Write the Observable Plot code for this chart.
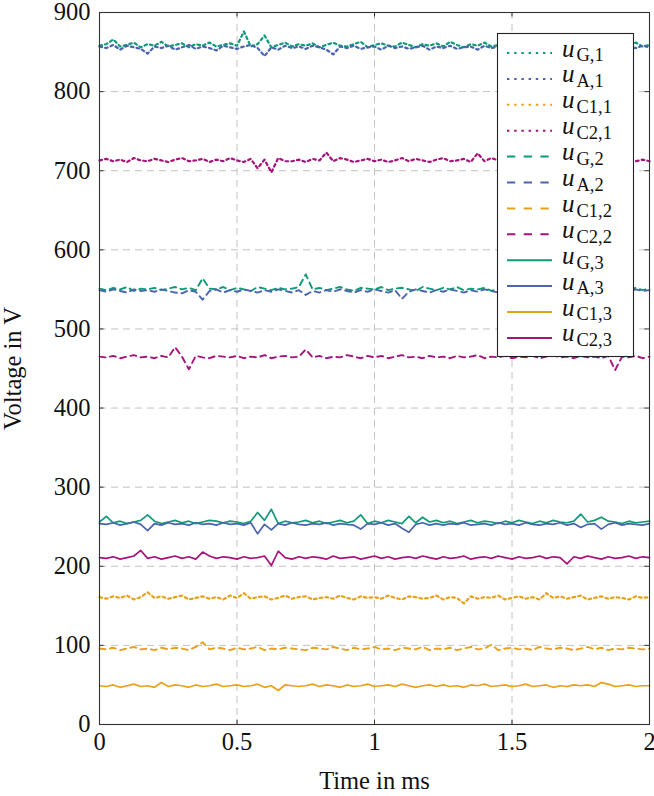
<!DOCTYPE html>
<html><head><meta charset="utf-8">
<script src="https://cdn.jsdelivr.net/npm/d3@7"></script>
<script src="https://cdn.jsdelivr.net/npm/@observablehq/plot@0.6"></script>
<style>
body{margin:0;background:#fff;}
#wrap{position:relative;width:654px;height:796px;}
#wrap svg.leg{position:absolute;left:0;top:0;pointer-events:none;}
</style></head><body><div id="wrap"></div>
<script>
const timeMs = [
0,0.025,0.05,0.075,0.1,0.125,0.15,0.175,0.2,0.225,
0.25,0.275,0.3,0.325,0.35,0.375,0.4,0.425,0.45,0.475,
0.5,0.525,0.55,0.575,0.6,0.625,0.65,0.675,0.7,0.725,
0.75,0.775,0.8,0.825,0.85,0.875,0.9,0.925,0.95,0.975,
1,1.025,1.05,1.075,1.1,1.125,1.15,1.175,1.2,1.225,
1.25,1.275,1.3,1.325,1.35,1.375,1.4,1.425,1.45,1.475,
1.5,1.525,1.55,1.575,1.6,1.625,1.65,1.675,1.7,1.725,
1.75,1.775,1.8,1.825,1.85,1.875,1.9,1.925,1.95,1.975,
2];

const uG1 = [
858,860,866,857,859,862,856,860,858,863,
857,859,861,856,860,858,862,857,859,861,
858,876,857,860,871,856,859,862,857,860,
858,861,856,859,862,858,857,860,863,856,
859,861,858,857,862,859,856,860,858,861,
857,863,859,856,860,858,862,857,859,861,
858,856,860,863,857,859,858,861,856,860,
862,857,859,858,861,856,860,858,862,857,
859];
const uA1 = [
857,855,859,853,858,856,854,848,857,855,
858,853,856,859,854,857,855,852,858,856,
854,857,859,855,845,856,853,858,855,857,
854,858,856,853,847,857,855,858,854,856,
857,853,858,855,857,854,856,858,853,857,
855,858,854,856,857,853,858,855,857,854,
856,858,853,857,855,858,854,856,857,853,
858,855,857,854,856,858,853,857,855,858,
856];
const uC11 = [
161,159,162,160,163,158,161,167,160,162,
159,161,163,158,160,162,159,161,158,163,
160,166,159,161,162,158,160,163,159,161,
162,158,160,161,159,163,160,158,162,160,
161,159,163,160,158,162,161,159,160,163,
158,161,160,153,162,159,161,160,163,158,
160,162,159,161,158,166,160,162,159,161,
163,158,160,162,159,161,160,158,162,160,
161];
const uC21 = [
713,715,712,714,711,716,713,712,715,713,
711,714,716,712,713,715,711,714,712,716,
713,711,715,703,714,698,716,712,712,714,
711,715,713,723,712,716,714,711,713,715,
712,714,711,713,716,712,715,713,711,714,
716,712,713,715,711,722,712,716,713,711,
714,712,715,713,711,716,714,713,712,715,
711,714,713,705,716,711,715,713,712,714,
712];
const uG2 = [
551,549,552,550,553,548,551,550,552,549,
551,553,550,552,549,564,551,550,553,549,
552,550,548,553,551,549,552,550,551,553,
569,550,552,549,551,553,550,548,552,551,
550,553,549,551,552,550,548,553,551,549,
552,550,553,549,551,550,552,548,551,553,
550,549,552,551,553,548,550,552,549,551,
553,550,549,552,551,548,553,550,552,549,
551];
const uA2 = [
549,547,550,548,546,550,548,549,547,550,
548,546,545,549,547,537,548,550,546,549,
547,550,548,546,549,547,550,548,546,549,
543,548,546,549,547,550,548,546,549,547,
550,548,546,549,538,547,550,548,546,549,
547,550,548,546,549,547,550,548,546,549,
548,546,549,547,550,548,546,549,547,550,
546,549,547,550,548,546,549,547,550,548,
549];
const uC12 = [
96,95,97,94,96,98,95,96,94,97,
95,97,96,94,98,104,95,97,96,94,
97,95,96,98,94,96,95,97,96,95,
94,97,96,95,98,96,94,97,95,96,
98,95,96,94,97,96,95,98,94,96,
95,97,94,96,98,95,96,101,94,96,
97,95,96,94,98,96,95,97,96,94,
96,98,95,97,94,96,95,97,96,95,
96];
const uC22 = [
465,464,466,463,465,467,464,465,463,466,
464,477,465,449,466,464,463,466,465,464,
466,463,465,464,467,463,465,466,464,465,
474,464,466,463,465,464,467,465,463,466,
464,466,463,465,467,464,465,463,466,464,
465,463,466,464,465,467,463,465,464,466,
463,465,464,466,463,465,467,464,465,463,
466,464,465,463,466,448,465,464,466,463,
465];
const uG3 = [
256,263,255,257,254,256,258,265,257,254,
256,258,255,257,254,256,258,257,255,257,
256,254,257,268,258,272,254,257,255,256,
258,255,257,254,256,258,255,257,265,254,
257,255,258,256,254,263,255,262,256,258,
255,257,254,256,258,255,257,256,254,257,
255,258,256,254,257,255,258,256,255,257,
266,256,258,262,257,256,254,257,255,256,
257];
const uA3 = [
254,253,255,252,254,256,253,245,254,252,
255,253,254,252,255,253,254,252,255,253,
254,252,255,241,253,246,254,252,255,253,
252,254,253,255,252,254,253,252,247,254,
253,255,252,254,248,243,253,255,252,254,
252,254,253,255,252,253,254,252,255,253,
254,252,255,253,252,254,253,255,252,254,
249,253,254,247,253,255,252,254,253,252,
254];
const uC13 = [
49,48,50,47,49,51,48,49,47,53,
48,50,49,47,50,48,49,51,48,49,
50,48,49,51,47,49,43,50,49,48,
49,51,48,50,49,47,50,48,49,51,
48,49,50,48,51,49,47,49,50,48,
50,48,49,47,50,49,51,48,49,50,
48,49,51,48,49,50,47,49,48,50,
49,50,48,53,51,48,49,50,48,49,
49];
const uC23 = [
211,210,212,209,211,213,220,210,212,209,
211,213,210,212,209,218,213,210,212,211,
209,212,210,211,213,201,219,211,209,212,
210,212,211,209,213,210,211,212,209,211,
213,210,212,209,211,212,210,213,211,209,
212,210,211,213,209,211,212,210,213,211,
209,212,210,211,213,210,212,211,203,212,
210,213,211,209,212,210,211,213,210,212,
211];

const seriesSubs = ["G,1","A,1","C1,1","C2,1","G,2","A,2","C1,2","C2,2","G,3","A,3","C1,3","C2,3"];
const seriesValues = [uG1,uA1,uC11,uC21,uG2,uA2,uC12,uC22,uG3,uA3,uC13,uC23];
const seriesColor = ["G","A","C1","C2","G","A","C1","C2","G","A","C1","C2"];
const seriesStyle = ["dot","dot","dot","dot","dash","dash","dash","dash","solid","solid","solid","solid"];
const xTicks = [0,0.5,1,1.5,2];
const yTicks = [0,100,200,300,400,500,600,700,800,900];

const palette = {G:"#0f9a79", A:"#4a64ae", C1:"#e8a11a", C2:"#a5137c"};
const plotDash = {dot:"2.6,3.2", dash:"6,4.6", solid:null};
const plotWidth = {dot:2.2, dash:1.9, solid:1.7};
const legDash = {dot:"2.4,4.8", dash:"8.3,8.4", solid:null};

const W = 654, H = 796, ML = 99, MR = 5, MT = 12, MB = 72;
const innerW = W - ML - MR, innerH = H - MT - MB;
const tickLen = 4.5;
const fontStack = "'Liberation Serif', 'Times New Roman', 'DejaVu Serif', serif";
const gridStyle = {stroke:"#c2c2c2", strokeOpacity:1, strokeDasharray:"7,5", strokeWidth:1};

const lineMarks = seriesSubs.map((sub, k) => {
  const rows = timeMs.map((t, i) => ({t, v: seriesValues[k][i]}));
  return Plot.line(rows, {x:"t", y:"v", stroke: palette[seriesColor[k]],
    strokeWidth: plotWidth[seriesStyle[k]],
    strokeDasharray: plotDash[seriesStyle[k]], strokeLinejoin:"round"});
});

const chart = Plot.plot({
  width: W, height: H,
  marginLeft: ML, marginRight: MR, marginTop: MT, marginBottom: MB,
  style: {fontFamily: fontStack, fontSize: "24.5px", color: "#111", background: "#fff", overflow: "visible"},
  x: {domain: [0, 2]},
  y: {domain: [0, 900]},
  marks: [
    Plot.gridX(xTicks.slice(1, -1), gridStyle),
    Plot.gridY(yTicks.slice(1, -1), gridStyle),
    ...lineMarks,
    Plot.tickY(yTicks, {y: d => d, insetRight: innerW - tickLen, stroke: "#333"}),
    Plot.tickY(yTicks, {y: d => d, insetLeft: innerW - tickLen, stroke: "#333"}),
    Plot.tickX(xTicks, {x: d => d, insetTop: innerH - tickLen, stroke: "#333"}),
    Plot.tickX(xTicks, {x: d => d, insetBottom: innerH - tickLen, stroke: "#333"}),
    Plot.frame({stroke: "#333", strokeWidth: 1.1}),
    Plot.axisX(xTicks, {tickSize: 0, tickPadding: 8, tickFormat: d => String(d),
      label: "Time in ms", labelAnchor: "center", labelArrow: "none", labelOffset: 64}),
    Plot.axisY(yTicks, {tickSize: 0, tickPadding: 9, tickFormat: d => String(d),
      label: "Voltage in V", labelAnchor: "center", labelArrow: "none", labelOffset: 96})
  ]
});
const wrap = document.getElementById("wrap");
wrap.appendChild(chart);

// legend overlay
const leg = d3.select(wrap).append("svg").attr("class", "leg").attr("width", W).attr("height", H);
leg.append("rect").attr("x", 497.5).attr("y", 33.5).attr("width", 136).attr("height", 323)
  .attr("fill", "#fff").attr("stroke", "#222").attr("stroke-width", 1.1);
seriesSubs.forEach((sub, k) => {
  const yk = 53 + 25.9 * k;
  leg.append("line").attr("x1", 507).attr("x2", 552).attr("y1", yk).attr("y2", yk)
    .attr("stroke", palette[seriesColor[k]]).attr("stroke-width", 2)
    .attr("stroke-dasharray", legDash[seriesStyle[k]]);
  const tx = leg.append("text").attr("x", 562).attr("y", yk + 3.5)
    .attr("font-family", fontStack).attr("fill", "#111");
  tx.append("tspan").attr("font-style", "italic").attr("font-size", 25).text("u");
  tx.append("tspan").attr("dx", 2).attr("dy", 4.8).attr("font-size", 18.5).text(sub);
});
</script></body></html>
